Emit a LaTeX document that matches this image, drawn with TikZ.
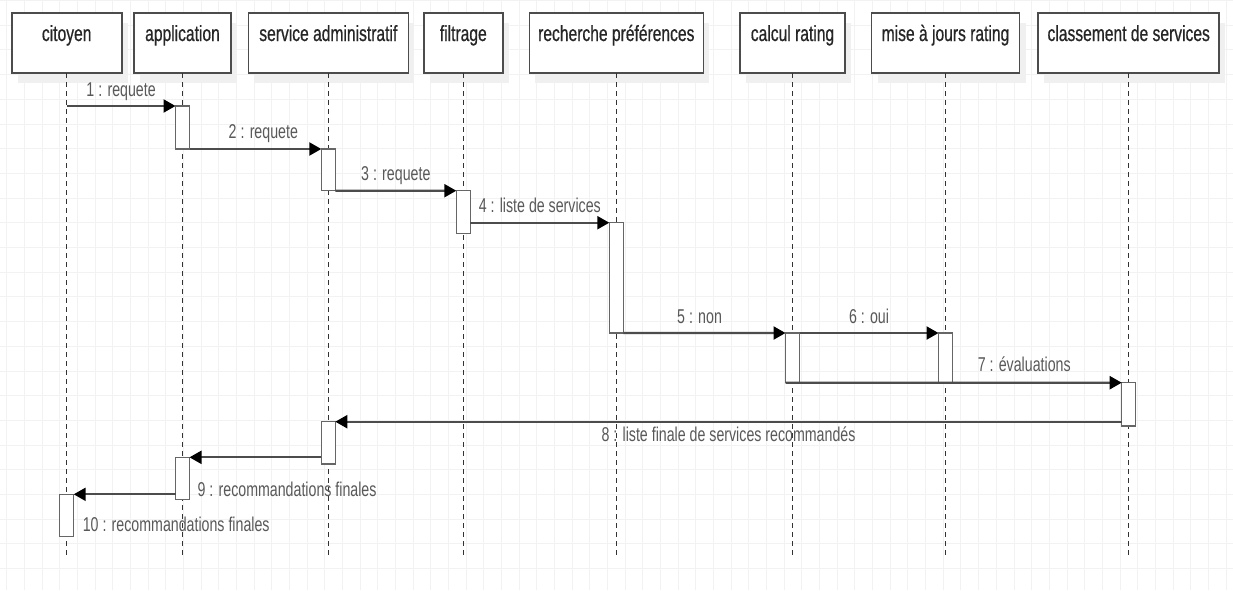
\documentclass[tikz,border=0pt]{standalone}
\usepackage{fontspec}
\setmainfont{Liberation Sans}[FakeStretch=0.71]
\newfontfamily\headfont{Liberation Sans}[FakeStretch=0.71,FakeBold=0.6]
\usetikzlibrary{arrows.meta,shadows}

\begin{document}
\begin{tikzpicture}[x=1pt,y=-1pt,
  gridline/.style={draw=black!5,line width=0.8pt},
  actor/.style={draw=black!70,line width=1.6pt,fill=white,minimum height=60pt,outer sep=0pt,
    inner xsep=0pt,inner ysep=12pt,text height=16pt,text depth=20pt,text=black!85,
    font=\headfont\fontsize{22}{24}\selectfont,
    drop shadow={shadow xshift=6pt,shadow yshift=-10pt,fill=black!6,opacity=1}},
  lifeline/.style={draw=black!80,line width=1pt,dash pattern=on 5pt off 4pt},
  activ/.style={draw=black!60,line width=1.5pt,fill=white,minimum width=14pt,inner sep=0pt,
    outer sep=0pt,anchor=north},
  msg/.style={draw=black!70,line width=2.2pt,-{Triangle[length=12pt,width=13pt,color=black]}},
  msglabel/.style={text=black!65,font=\fontsize{20}{22}\selectfont,inner sep=0pt}
]
\useasboundingbox (0,0) rectangle (1233,590);
\fill[white] (0,0) rectangle (1233,590);
\begin{scope}[y=1pt,shift={(6.7pt,-0.4pt)}]
  \draw[gridline,xstep=17.67pt,ystep=24.7pt] (-6.7,-589.6) grid (1226.3,0.4);
\end{scope}

% participants
\node[actor,minimum width=110pt] (citoyen) at (66.7,43) {citoyen};
\node[actor,minimum width=97pt] (application) at (182.5,43) {application};
\node[actor,minimum width=160pt] (service) at (328.3,43) {service administratif};
\node[actor,minimum width=79pt] (filtrage) at (463.3,43) {filtrage};
\node[actor,minimum width=174pt] (recherche) at (616.3,43) {recherche préférences};
\node[actor,minimum width=105pt] (calcul) at (792.5,43) {calcul rating};
\node[actor,minimum width=148pt] (miseajour) at (945.5,43) {mise à jours rating};
\node[actor,minimum width=181pt] (classement) at (1128.7,43) {classement de services};

% lifelines
\coordinate (bottom) at (0,558);
\draw[lifeline] (citoyen.south) -- (citoyen.south |- bottom);
\draw[lifeline] (application.south) -- (application.south |- bottom);
\draw[lifeline] (service.south) -- (service.south |- bottom);
\draw[lifeline] (filtrage.south) -- (filtrage.south |- bottom);
\draw[lifeline] (recherche.south) -- (recherche.south |- bottom);
\draw[lifeline] (calcul.south) -- (calcul.south |- bottom);
\draw[lifeline] (miseajour.south) -- (miseajour.south |- bottom);
\draw[lifeline] (classement.south) -- (classement.south |- bottom);

% activations
\node[activ,minimum height=43pt] (actApp1) at (182.5,106) {};
\node[activ,minimum height=41.7pt] (actSrv1) at (328.3,149) {};
\node[activ,minimum height=42.6pt] (actFil) at (463.3,190.7) {};
\node[activ,minimum height=110.3pt] (actRech) at (616.3,222.7) {};
\node[activ,minimum height=49.7pt] (actCalc) at (792.5,333) {};
\node[activ,minimum height=49.7pt] (actMise) at (945.5,333) {};
\node[activ,minimum height=43.3pt] (actClass) at (1128.7,382.7) {};
\node[activ,minimum height=42.3pt] (actSrv2) at (328.3,421.7) {};
\node[activ,minimum height=42pt] (actApp2) at (182.5,457.3) {};
\node[activ,minimum height=42.4pt] (actCit) at (66.7,494.3) {};

% messages
\draw[msg] (citoyen.south |- actApp1.north) -- (actApp1.north west)
  node[msglabel,midway,anchor=base,yshift=10pt] {1 : requete};
\draw[msg] (actApp1.south east) -- (actSrv1.north west)
  node[msglabel,pos=0.56,anchor=base,yshift=11pt] {2 : requete};
\draw[msg] (actSrv1.south east) -- (actFil.north west)
  node[msglabel,midway,anchor=base,yshift=10pt] {3 : requete};
\draw[msg] (actFil.east |- actRech.north) -- (actRech.north west)
  node[msglabel,midway,anchor=base,yshift=10.5pt] {4 : liste de services};
\draw[msg] (actRech.south east) -- (actCalc.north west)
  node[msglabel,pos=0.47,anchor=base,yshift=10pt] {5 : non};
\draw[msg] (actCalc.north east) -- (actMise.north west)
  node[msglabel,midway,anchor=base,yshift=10pt] {6 : oui};
\draw[msg] (actCalc.south west) -- (actClass.north west)
  node[msglabel,pos=0.71,anchor=base,yshift=11pt] {7 : évaluations};
\draw[msg] (actClass.west |- actSrv2.north) -- (actSrv2.north east)
  node[msglabel,midway,anchor=base,yshift=-20pt] {8 : liste finale de services recommandés};
\draw[msg] (actSrv2.west |- actApp2.north) -- (actApp2.north east)
  node[msglabel,at end,anchor=base west,xshift=7pt,yshift=-39pt] {9 : recommandations finales};
\draw[msg] (actApp2.west |- actCit.north) -- (actCit.north east)
  node[msglabel,at end,anchor=base west,xshift=8pt,yshift=-37.4pt] {10 : recommandations finales};
\end{tikzpicture}
\end{document}
